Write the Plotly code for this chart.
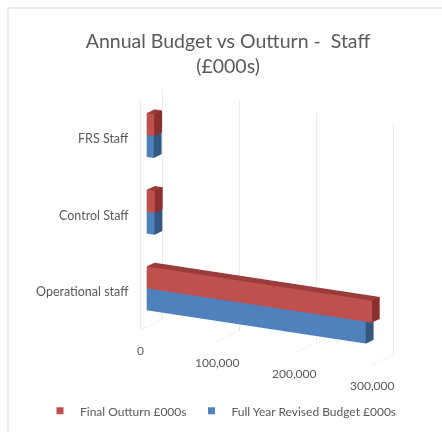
import plotly.graph_objects as go

# Staff budget vs outturn (£000s)
categories = ["Operational staff", "Control Staff", "FRS Staff"]
outturn = [292000, 10500, 9500]     # Final Outturn £000s
budget = [284000, 10000, 9000]      # Full Year Revised Budget £000s
x_ticks = [0, 100000, 200000, 300000]
x_ticklabels = ["0", "100,000", "200,000", "300,000"]

series = [
    # name, values, front colour, top colour, side colour, slot offset (0 = lower half)
    ("Final Outturn £000s", outturn, "#C0504D", "#9A3C3A", "#8A302E", 1),
    ("Full Year Revised Budget £000s", budget, "#4F81BD", "#3D6699", "#34587F", 0),
]

GAP = 1.5                        # gap width relative to a bar
BAR = 1.0 / (2 + GAP)            # bar thickness in category units
DEPTH0, DEPTH1 = 0.28, 0.64      # bar depth inside the floor (0..1)
Z_MIN, Z_MAX = -0.5, 2.5         # category axis range

FONT = "Lato, 'Open Sans', sans-serif"
GREY = "#595959"


def box_mesh(values, slot, front, top, side):
    xs, ys, zs, ii, jj, kk, fc = [], [], [], [], [], [], []
    for c, v in enumerate(values):
        z0 = c - BAR + slot * BAR
        z1 = z0 + BAR
        base = len(xs)
        for (x, y, z) in [
            (0, DEPTH0, z0), (v, DEPTH0, z0), (v, DEPTH1, z0), (0, DEPTH1, z0),
            (0, DEPTH0, z1), (v, DEPTH0, z1), (v, DEPTH1, z1), (0, DEPTH1, z1),
        ]:
            xs.append(x); ys.append(y); zs.append(z)
        faces = [
            ((0, 1, 5), front), ((0, 5, 4), front),   # front (facing viewer)
            ((4, 5, 6), top), ((4, 6, 7), top),       # top
            ((1, 2, 6), side), ((1, 6, 5), side),     # value end
            ((0, 1, 2), side), ((0, 2, 3), side),     # bottom
            ((3, 2, 6), front), ((3, 6, 7), front),   # back
            ((0, 3, 7), side), ((0, 7, 4), side),     # start
        ]
        for (a, b, d), col in faces:
            ii.append(base + a); jj.append(base + b); kk.append(base + d); fc.append(col)
    return dict(x=xs, y=ys, z=zs, i=ii, j=jj, k=kk, facecolor=fc)


fig = go.Figure()
for name, vals, front, top, side, slot in series:
    m = box_mesh(vals, slot, front, top, side)
    fig.add_trace(go.Mesh3d(
        **m, flatshading=True, showlegend=False, hoverinfo="skip",
        lighting=dict(ambient=1.0, diffuse=0.0, specular=0.0, roughness=1.0, fresnel=0.0),
    ))

# legend entries
for name, vals, front, top, side, slot in series:
    fig.add_trace(go.Scatter(
        x=[None], y=[None], mode="markers", name=name,
        marker=dict(symbol="square", size=7, color=front),
    ))

# category labels, right-aligned against the front-left edge of the plot box
cat_labels = [
    dict(x=0, y=0, z=i, text=c, showarrow=False, xanchor="right", xshift=-10,
         font=dict(family=FONT, size=12.5, color=GREY))
    for i, c in enumerate(categories)
]
# value labels, set below the front edge of the floor
value_labels = [
    dict(x=v, y=0, z=Z_MIN, text=t, showarrow=False, xanchor="center", yanchor="middle",
         yshift=-20, font=dict(family=FONT, size=12, color=GREY))
    for v, t in zip(x_ticks, x_ticklabels)
]

axis_common = dict(showbackground=False, showspikes=False, zeroline=False, title=dict(text=""))

fig.update_layout(
    width=442, height=432,
    margin=dict(l=0, r=0, t=0, b=0),
    paper_bgcolor="white", plot_bgcolor="rgba(0,0,0,0)",
    font=dict(family=FONT, color=GREY, size=12),
    title=dict(
        text="Annual Budget vs Outturn -\u00a0 Staff<br>(£000s)",
        x=0.516, xanchor="center", y=0.89, yanchor="bottom",
        font=dict(family=FONT, size=19.5, color=GREY),
    ),
    xaxis=dict(visible=False, domain=[0, 0.01]),
    yaxis=dict(visible=False, domain=[0, 0.01]),
    scene=dict(
        domain=dict(x=[0.0, 1.0], y=[0.04, 0.86]),
        bgcolor="rgba(0,0,0,0)",
        aspectmode="manual",
        aspectratio=dict(x=1.5, y=0.25, z=1.35),
        camera=dict(eye=dict(x=0.764, y=-1.889, z=0.508), center=dict(x=-0.3, y=0, z=-0.1),
                    up=dict(x=0, y=0, z=1), projection=dict(type="orthographic")),
        xaxis=dict(**axis_common, range=[0, 300000], tickvals=x_ticks,
                   showticklabels=False, ticks="",
                   showgrid=True, gridcolor="#D9D9D9", gridwidth=1, showline=False),
        yaxis=dict(**axis_common, range=[0, 1], showgrid=False, showticklabels=False,
                   showline=False, ticks=""),
        zaxis=dict(**axis_common, range=[Z_MIN, Z_MAX], tickvals=[0, 1, 2],
                   showticklabels=False, ticks="", mirror=True,
                   showgrid=False, showline=True, linecolor="#D9D9D9"),
        annotations=cat_labels + value_labels,
    ),
    legend=dict(orientation="h", x=0.5, xanchor="center", y=0.049, yanchor="middle",
                itemwidth=30, font=dict(family=FONT, size=12, color=GREY),
                bgcolor="rgba(0,0,0,0)"),
    hovermode=False, dragmode=False,
    shapes=[dict(type="rect", xref="paper", yref="paper", x0=8 / 442, y0=-0.1, x1=1.1,
                 y1=1 - 8 / 432, line=dict(color="#D9D9D9", width=1), layer="below")],
)

fig.write_html("out.html", config=dict(displayModeBar=False))
